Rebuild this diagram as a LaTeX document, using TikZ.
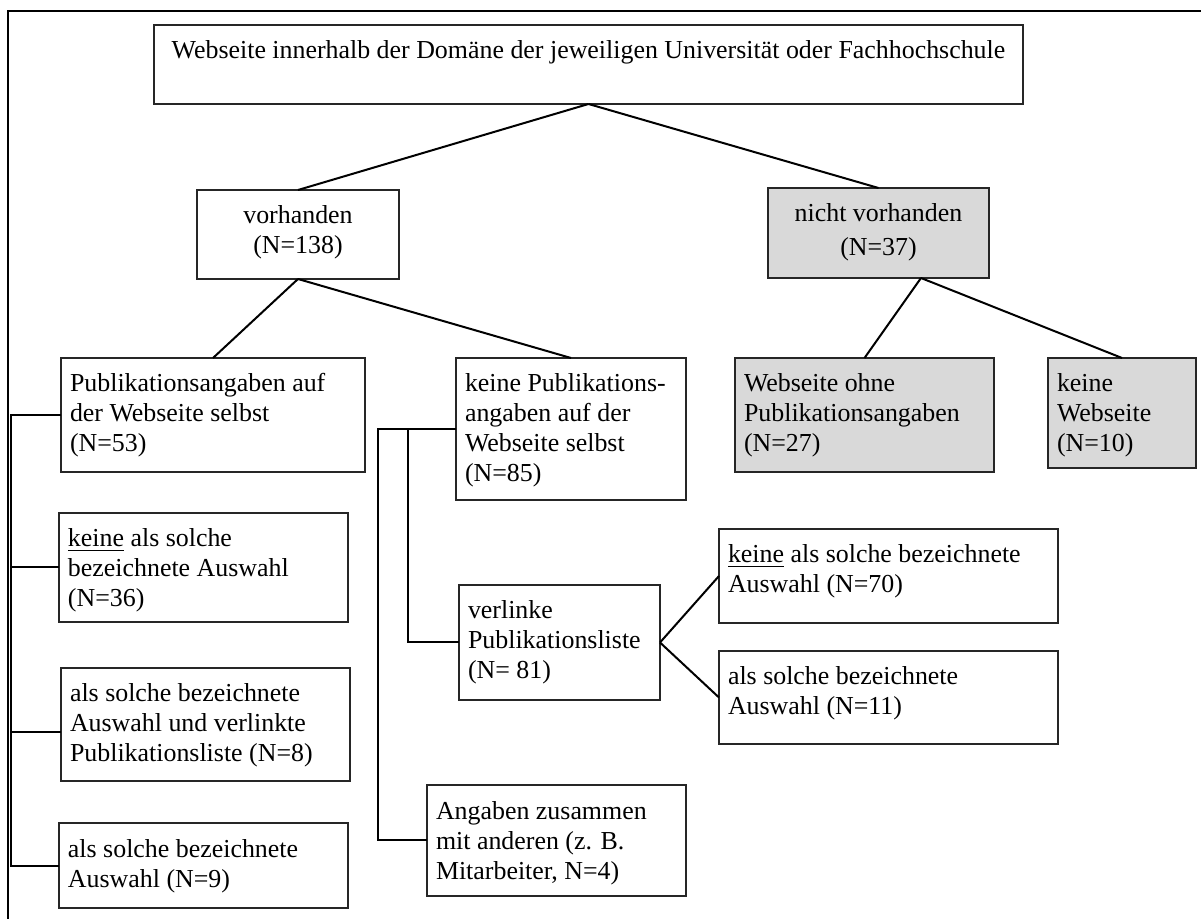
\documentclass[tikz,border=0pt]{standalone}
\usepackage{fontspec}
\setmainfont{Liberation Serif}
\tikzset{
  boxst/.style={draw=black!85, line width=0.7pt, fill=white, inner sep=0pt, outer sep=0pt},
  greybox/.style={fill=black!15},
  txtst/.style={inner sep=0pt, outer sep=0pt, align=left, font=\fontsize{12.95}{15}\selectfont, anchor=north west},
  ctxt/.style={inner sep=0pt, outer sep=0pt, align=center, font=\fontsize{12.95}{15}\selectfont, anchor=north},
  conn/.style={line width=1pt, black},
  frame/.style={line width=1.2pt, black},
}
% left aligned box: [style]{name}{x1}{y1}{x2}{y2}{text}
\newcommand\lbx[7][]{%
  \node[boxst,#1,anchor=north west,minimum width={(#5-#3)*0.5pt},minimum height={(#6-#4)*0.5pt}] (#2) at (#3,#4) {};
  \node[txtst] (#2-t) at ([shift={(9,13)}]#2.north west) {\strut #7};}
% centred box
\newcommand\cbx[7][]{%
  \node[boxst,#1,anchor=north west,minimum width={(#5-#3)*0.5pt},minimum height={(#6-#4)*0.5pt}] (#2) at (#3,#4) {};
  \node[ctxt] (#2-t) at ([shift={(0,13)}]#2.north) {\strut #7};}
\begin{document}
\begin{tikzpicture}[x=0.5pt,y=-0.5pt]
\useasboundingbox (0,0) rectangle (1201,919);
\fill[white] (0,0) rectangle (1201,919);
% frame
\draw[frame] (8,919) -- (8,11) -- (1201,11);

% boxes
\cbx{top}{154}{25}{1023}{104}{Webseite innerhalb der Domäne der jeweiligen Universität oder Fachhochschule}
\cbx{vor}{197}{190}{399}{279}{vorhanden\\(N=138)}
\cbx[greybox]{nvor}{768}{188}{989}{278}{nicht vorhanden\\[2pt](N=37)}

\lbx{pub}{61}{358}{365}{472}{Publikationsangaben auf\\der Webseite selbst\\(N=53)}
\lbx{kpub}{456}{358}{686}{500}{keine Publikations-\\angaben auf der\\Webseite selbst\\(N=85)}
\lbx[greybox]{wohne}{735}{358}{994}{472}{Webseite ohne\\Publikationsangaben\\(N=27)}
\lbx[greybox]{kweb}{1048}{358}{1196}{468}{keine\\Webseite\\(N=10)}

\lbx{kaus36}{59}{513}{348}{622}{\underline{keine} als solche\\bezeichnete Auswahl\\(N=36)}
\lbx{aus8}{61}{668}{350}{781}{als solche bezeichnete\\Auswahl und verlinkte\\Publikationsliste (N=8)}
\lbx{aus9}{59}{823}{348}{908}{als solche bezeichnete\\Auswahl (N=9)}

\lbx{verl}{459}{585}{660}{700}{verlinke\\Publikationsliste\\(N= 81)}
\lbx{kaus70}{719}{529}{1058}{623}{\underline{keine} als solche bezeichnete\\Auswahl (N=70)}
\lbx{aus11}{719}{651}{1058}{744}{als solche bezeichnete\\Auswahl (N=11)}
\lbx{ang}{427}{785}{686}{896}{Angaben zusammen\\mit anderen (z. B.\\Mitarbeiter, N=4)}

% tree connectors
\draw[conn] (top.south) -- (vor.north);
\draw[conn] (top.south) -- (nvor.north);
\draw[conn] (vor.south) -- (pub.north);
\draw[conn] (vor.south) -- (kpub.north);
\coordinate (nj) at (921,278);
\draw[conn] (nj) -- (wohne.north);
\draw[conn] (nj) -- (kweb.north);

% left bracket
\coordinate (lbxc) at (11,0);
\coordinate (a8w) at ([yshift=-4pt]aus8.west);
\draw[conn] (pub.west) -- (pub.west -| lbxc) -- (lbxc |- aus9.west) -- (aus9.west);
\draw[conn] (kaus36.west) -- (kaus36.west -| lbxc);
\draw[conn] (a8w) -- (a8w -| lbxc);

% middle bracket
\coordinate (b1) at (378,0);
\coordinate (b2) at (408,0);
\draw[conn] (kpub.west) -- (kpub.west -| b1) |- (ang.west);
\draw[conn] (kpub.west -| b2) |- (verl.west);

% verlinke children
\draw[conn] (verl.east) -- (kaus70.west);
\draw[conn] (verl.east) -- (aus11.west);
\end{tikzpicture}
\end{document}
